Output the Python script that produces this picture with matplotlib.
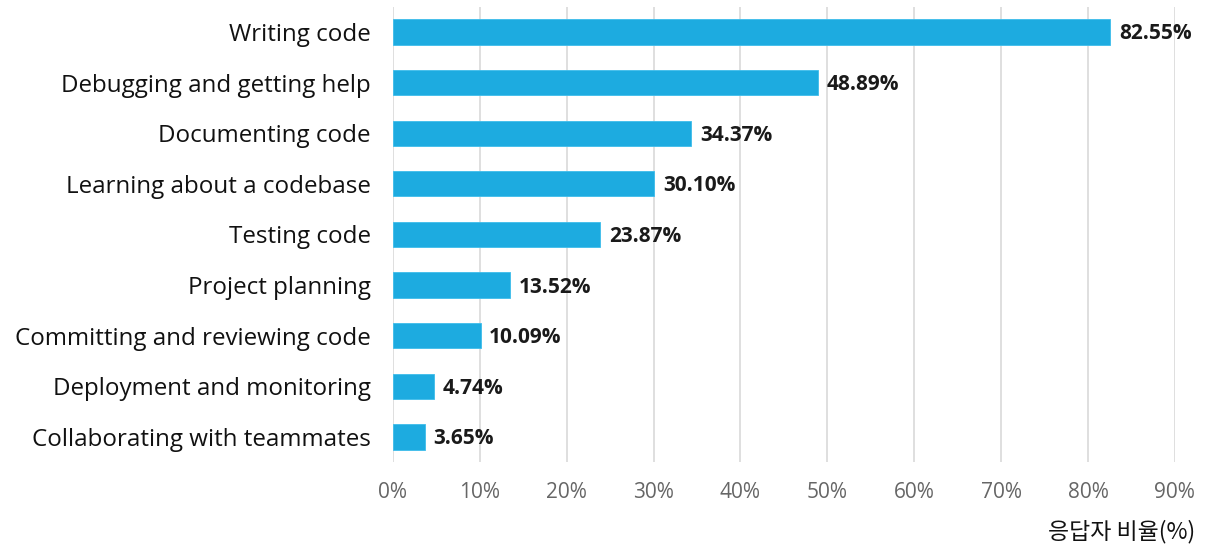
import matplotlib
matplotlib.use("Agg")
import matplotlib.pyplot as plt
import numpy as np

plt.rcParams['font.family'] = ['Open Sans', 'Noto Sans CJK KR', 'DejaVu Sans']

categories = ["Writing code", "Debugging and getting help", "Documenting code",
              "Learning about a codebase", "Testing code", "Project planning",
              "Committing and reviewing code", "Deployment and monitoring",
              "Collaborating with teammates"]
values = [82.55, 48.89, 34.37, 30.10, 23.87, 13.52, 10.09, 4.74, 3.65]
xticks = [0, 10, 20, 30, 40, 50, 60, 70, 80, 90]
xlabel = "응답자 비율(%)"

fig = plt.figure(figsize=(12.05, 5.49), dpi=100)
ax = fig.add_axes([0.326, 0.158, 0.649, 0.830])

y = np.arange(len(categories))
ax.barh(y, values, height=0.5, color="#1DABE0", edgecolor="#3DBDEB", linewidth=0.6, zorder=3)
for yi, v in zip(y, values):
    ax.text(v + 1.0, yi + 0.04, f"{v:.2f}%", va="center", ha="left", fontsize=15,
            fontweight="bold", color="#1a1a1a")

ax.set_ylim(len(categories) - 0.5, -0.5)
ax.set_xlim(0, 90)
ax.set_yticks(y)
ax.set_yticklabels(categories, fontsize=17.4, color="#111111")
ax.set_xticks(xticks)
ax.set_xticklabels([f"{t}%" for t in xticks], fontsize=15, color="#666666")
ax.tick_params(axis="y", length=0, pad=16)
ax.tick_params(axis="x", length=0, pad=14)
ax.grid(axis="x", color="#d9d9d9", linewidth=1.2, zorder=0)
for s in ax.spines.values():
    s.set_visible(False)

fig.text(0.992, 0.01, xlabel, ha="right", va="bottom", fontsize=16.5, color="#111111",
         family=['Noto Sans CJK KR', 'DejaVu Sans'])

fig.savefig("out.png", dpi=100)
